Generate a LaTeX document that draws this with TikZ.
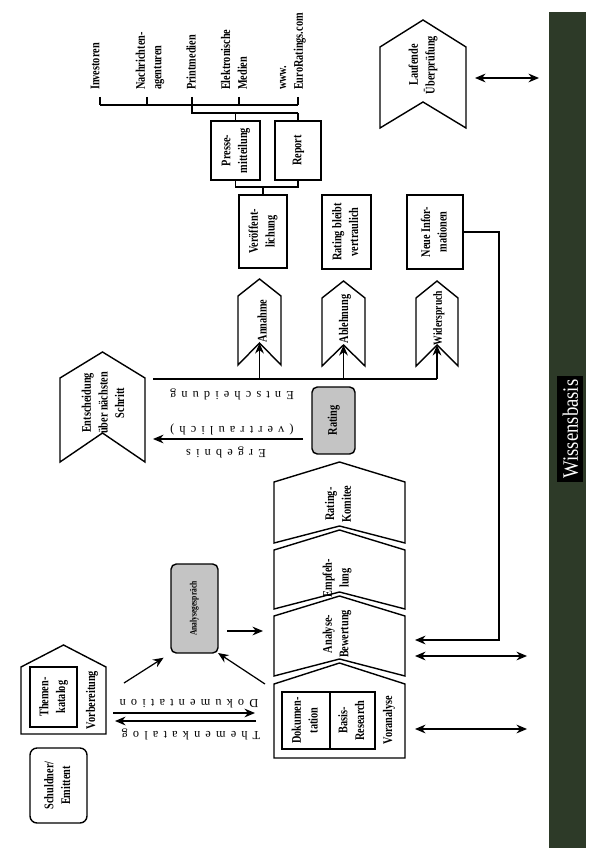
\documentclass[tikz,border=0pt]{standalone}
\usepackage{fontspec}
\setmainfont{Liberation Serif}[FakeStretch=0.85, BoldFeatures={FakeStretch=0.78}]
\newfontfamily\spacedfont{Liberation Serif}[LetterSpace=42]
\usepackage{tikz}
\usetikzlibrary{arrows.meta,positioning,calc}
\usepackage{xcolor}
\definecolor{wbgreen}{RGB}{45,58,40}
\definecolor{boxgray}{RGB}{196,196,196}

%% chevron: name, cx, half width, top, rise, bottom, notch
\newcommand{\chevron}[7]{%
  \draw[outline] ({#2},{#4}) -- ({#2+#3},{#4+#5}) -- ({#2+#3},{#6})
    -- ({#2},{#6-#7}) -- ({#2-#3},{#6}) -- ({#2-#3},{#4+#5}) -- cycle;
  \coordinate (#1) at ({#2},{#6-#7});}
\newcommand{\rtext}[1]{\rotatebox{90}{\begin{tabular}{@{}c@{}}#1\end{tabular}}}

\begin{document}
\begin{tikzpicture}[x=0.02cm, y=-0.02cm,
  outline/.style={line width=0.8pt},
  lab/.style={font=\fontsize{7.5}{9.5}\selectfont\bfseries, align=center, rotate=90, inner sep=1pt},
  spaced/.style={font=\fontsize{7}{8}\selectfont\spacedfont, rotate=180, inner sep=0pt},
  box/.style={draw, line width=0.8pt, inner sep=0pt, outer sep=0pt,
    font=\fontsize{7.5}{9.5}\selectfont\bfseries},
  graybox/.style={box, rounded corners=3pt, fill=boxgray},
  arr/.style={-{Stealth[length=6pt,width=5pt]}, line width=0.7pt},
  darr/.style={{Stealth[length=6pt,width=5pt]}-{Stealth[length=6pt,width=5pt]}, line width=0.7pt}]
  \useasboundingbox (0,0) rectangle (589,854);

  %% Wissensbasis bar
  \node[fill=wbgreen, minimum width=0.74cm, minimum height=16.72cm, inner sep=0pt] (wb) at (567.5,430) {};
  \node[fill=black, text=white, rotate=90, font=\fontsize{12.5}{14}\selectfont,
    text height=10pt, text depth=1pt, inner sep=2pt] (wblab) at (570,429) {Wissensbasis};

  %% Empfaenger
  \node[lab, anchor=west, align=left] (inv) at (95,92) {Investoren};
  \node[lab, anchor=west, align=left] (nach) at (150,92) {Nachrichten-\\agenturen};
  \node[lab, anchor=west, align=left] (print) at (191,92) {Printmedien};
  \node[lab, anchor=west, align=left] (elek) at (234,92) {Elektronische\\Medien};
  \node[lab, anchor=west, align=left] (www) at (293,92) {www.\\EuroRatings.com};
  \foreach \x in {100,147,192,239,298}
    \draw[outline] (\x,97) -- (\x,105);
  \draw[outline] (100,105) -- (298,105);
  \draw[outline] (192,105) -- (192,113) -- (298,113);

  %% Veroeffentlichung
  \node[box, minimum width=0.98cm, minimum height=1.18cm] (presse) at (235.5,150.5) {\rtext{Presse-\\mitteilung}};
  \node[box, minimum width=0.92cm, minimum height=1.18cm] (report) at (298,150.5) {\rtext{Report}};
  \draw[outline] (235.5,113) -- (presse.north);
  \draw[outline] (298,113) -- (report.north);
  \draw[outline] (presse.south) -- (235.5,187) -- (298,187) -- (report.south);
  \node[box, minimum width=0.96cm, minimum height=1.46cm] (veroeff) at (263,231.5) {\rtext{Ver\"offent-\\lichung}};
  \draw[outline] (263,187) -- (veroeff.north);
  \node[box, minimum width=0.98cm, minimum height=1.48cm] (vertr) at (346.5,232) {\rtext{Rating bleibt\\vertraulich}};
  \node[box, minimum width=1.12cm, minimum height=1.48cm] (neue) at (435,232) {\rtext{Neue Infor-\\mationen}};

  %% Laufende Ueberpruefung
  \chevron{lauf}{423}{43}{20}{27}{128}{26}
  \node[lab] (laufl) at (423,65) {Laufende\\\"Uberpr\"ufung};
  \coordinate (lauf-r) at (475,78);
  \coordinate (wb-a) at (539,78);
  \draw[darr] (lauf-r) -- (wb-a);

  %% Entscheidung
  \chevron{ann}{259.5}{21.5}{279}{17}{365}{22}
  \chevron{abl}{343.5}{21.5}{281}{17}{366}{21}
  \chevron{wid}{437}{21}{281}{17}{366}{21}
  \node[lab] (annl) at (262,321) {Annahme};
  \node[lab] (abll) at (345,319) {Ablehnung};
  \node[lab, font=\fontsize{7}{8}\selectfont\bfseries] (widl) at (439,318) {Widerspruch};
  \draw[outline] (153,379) -- (437,379);
  \draw[arr] (259.5,379) -- (ann);
  \draw[arr] (343.5,379) -- (abl);
  \draw[arr] (437,379) -- (wid);
  \node[spaced] (entsl) at (232,394) {Entscheidung};

  \chevron{ents}{102.5}{42.5}{352}{26}{462}{29}
  \node[lab] (entsch) at (103,403) {Entscheidung\\\"uber n\"achsten\\Schritt};

  \node[graybox, minimum width=0.86cm, minimum height=1.34cm] (rating) at (333.5,420.5) {\rtext{Rating}};
  \coordinate (erg) at (153,439);
  \draw[arr] (303,439) -- (erg);
  \node[spaced] (vertl) at (232,429) {(vertraulich)};
  \node[spaced] (ergl) at (226,452) {Ergebnis};

  %% Rating-Prozess
  \chevron{komitee}{339.5}{65.5}{462}{20}{543}{17}
  \chevron{empf}{339.5}{65.5}{530}{20}{609}{17}
  \chevron{bew}{339.5}{65.5}{596}{20}{676}{17}
  \chevron{vorana}{339.5}{65.5}{663}{21}{758}{0}
  \node[lab] (komiteel) at (338,504) {Rating-\\Komitee};
  \node[lab] (empfl) at (337,578) {Empfeh-\\lung};
  \node[lab] (bewl) at (337,634) {Analyse-\\Bewertung};
  \node[box, minimum width=0.96cm, minimum height=1.14cm] (doku) at (306,720.5) {\rtext{Dokumen-\\tation}};
  \node[box, minimum width=0.9cm, minimum height=1.14cm] (basis) at (352.5,720.5) {\rtext{Basis-\\Research}};
  \node[lab] (voranal) at (389,720) {Voranalyse};

  \draw[arr] (neue.east) -- (499,232) -- (499,640) -- (415,640);
  \draw[darr] (415,656) -- (527,656);
  \draw[darr] (415,729) -- (527,729);

  %% Vorbereitung
  \chevron{vorber}{63.5}{42.5}{645}{22}{734}{0}
  \node[box, minimum width=0.94cm, minimum height=1.2cm] (themen) at (53.5,697) {\rtext{Themen-\\katalog}};
  \node[lab] (vorberl) at (92,700) {Vorbereitung};
  \node[box, rounded corners=4pt, minimum width=1.14cm, minimum height=1.5cm] (schuldner) at (58.5,785.5) {\rtext{Schuldner/\\Emittent}};

  \draw[arr] (113,713) -- (255,713);
  \draw[arr] (256,721) -- (115,721);
  \node[spaced] (dokul) at (189,704) {Dokumentation};
  \node[spaced] (themenl) at (191,734) {Themenkatalog};

  %% Analysegespraech
  \node[graybox, minimum width=0.94cm, minimum height=1.78cm,
    font=\fontsize{5.5}{6}\selectfont\bfseries] (analyse) at (194.5,608.5) {\rtext{Analysegespr\"ach}};
  \draw[arr, shorten >=5pt] (124,683) -- (analyse.south west);
  \draw[arr] (265,684) -- (analyse.south east);
  \draw[arr] (227,631) -- (263,631);

\end{tikzpicture}
\end{document}
